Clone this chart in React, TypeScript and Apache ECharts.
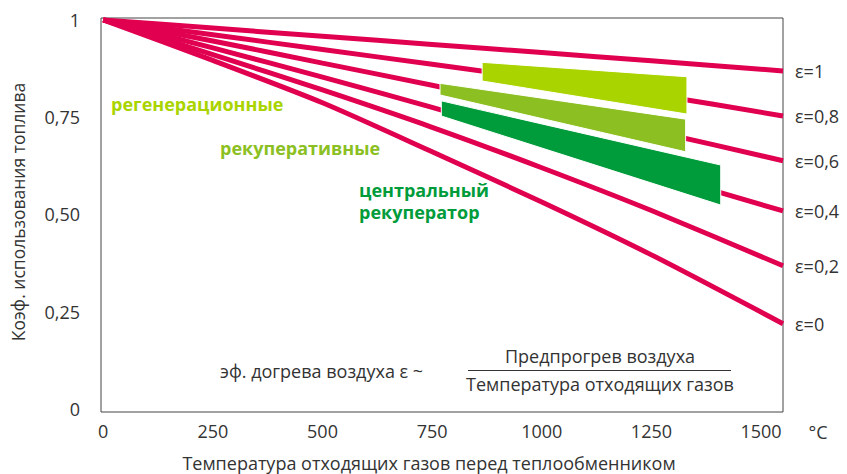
import React, { useEffect, useRef } from "react";
import * as echarts from "echarts";

// Temperatures (°C) at which the curves were read
const temps = [0, 250, 500, 750, 1000, 1250, 1550];
// Fuel utilisation coefficient for each preheat efficiency ε
const epsNames = ["ε=1", "ε=0,8", "ε=0,6", "ε=0,4", "ε=0,2", "ε=0"];
const eps1 = [1, 0.979, 0.958, 0.937, 0.916, 0.895, 0.869];
const eps08 = [1, 0.962, 0.924, 0.886, 0.848, 0.809, 0.753];
const eps06 = [1, 0.946, 0.889, 0.832, 0.772, 0.715, 0.638];
const eps04 = [1, 0.928, 0.853, 0.775, 0.693, 0.608, 0.509];
const eps02 = [1, 0.911, 0.82, 0.724, 0.62, 0.51, 0.368];
const eps0 = [1, 0.896, 0.787, 0.661, 0.532, 0.396, 0.219];

// Operating bands of heat exchanger types
const bandNames = ["регенерационные", "рекуперативные", "центральный рекуператор"];
const bandStartT = [864, 768, 771];
const bandEndT = [1331, 1328, 1408];
const bandStartTop = [0.891, 0.837, 0.792];
const bandStartBottom = [0.843, 0.807, 0.753];
const bandEndTop = [0.854, 0.745, 0.627];
const bandEndBottom = [0.758, 0.661, 0.524];

const xTickValues = [0, 250, 500, 750, 1000, 1250, 1500];
const yTickValues = [0, 0.25, 0.5, 0.75, 1];
const yTickLabels = ["0", "0,25", "0,50", "0,75", "1"];

const FONT = "'Open Sans', 'Noto Sans', sans-serif";
const TEXT = "#333333";
const PINK = "#e0004f";
const bandColors = ["#aad400", "#8bbf22", "#009c3b"];

export default function App() {
  const ref = useRef<HTMLDivElement>(null);

  useEffect(() => {
    if (!ref.current) return;
    const chart = echarts.init(ref.current, undefined, { renderer: "svg" });
    const curves = [eps1, eps08, eps06, eps04, eps02, eps0];

    const lineSeries = curves.map((vals, i) => ({
      type: "line",
      name: epsNames[i],
      data: temps.map((t, k) => [t, vals[k]]),
      showSymbol: false,
      smooth: 0.25,
      silent: true,
      z: 2,
      lineStyle: { color: PINK, width: 5, cap: "butt" },
      endLabel: {
        show: true,
        formatter: epsNames[i],
        distance: 12,
        color: TEXT,
        fontSize: 18,
        fontFamily: FONT,
      },
    }));

    const bandData = bandNames.map((_, i) => [
      bandStartT[i],
      bandEndT[i],
      bandStartTop[i],
      bandStartBottom[i],
      bandEndTop[i],
      bandEndBottom[i],
    ]);

    const bandSeries = {
      type: "custom",
      z: 5,
      silent: true,
      data: bandData,
      encode: { x: [0, 1], y: [2, 3, 4, 5] },
      renderItem: (params: any, api: any) => {
        const i = params.dataIndex;
        const a = api.coord([api.value(0), api.value(2)]);
        const b = api.coord([api.value(1), api.value(4)]);
        const c = api.coord([api.value(1), api.value(5)]);
        const d = api.coord([api.value(0), api.value(3)]);
        return {
          type: "polygon",
          shape: { points: [a, b, c, d] },
          style: { fill: bandColors[i], stroke: "#ffffff", lineWidth: 1 },
        };
      },
    };

    const txt = (
      text: string,
      x: number,
      y: number,
      opts: { size?: number; color?: string; bold?: boolean; align?: string; rotation?: number } = {}
    ) => ({
      type: "text",
      x,
      y,
      z: 10,
      rotation: opts.rotation || 0,
      style: {
        text,
        fill: opts.color || TEXT,
        fontSize: opts.size || 18,
        fontWeight: opts.bold ? "bold" : "normal",
        fontFamily: FONT,
        textAlign: opts.align || "left",
        textVerticalAlign: "middle",
      },
    });

    const option: any = {
      animation: false,
      backgroundColor: "#ffffff",
      grid: {
        left: 101,
        top: 18,
        width: 682,
        height: 394,
        show: true,
        borderColor: "#444444",
        borderWidth: 1,
        backgroundColor: "transparent",
      },
      xAxis: {
        type: "value",
        min: -5,
        max: 1550,
        axisLine: { show: false },
        axisTick: { show: false },
        splitLine: { show: false },
        axisLabel: {
          customValues: xTickValues,
          formatter: (v: number) => String(v),
          color: TEXT,
          fontSize: 18,
          fontFamily: FONT,
          margin: 10,
        },
      },
      yAxis: {
        type: "value",
        min: -0.008,
        max: 1.005,
        axisLine: { show: false },
        axisTick: { show: false },
        splitLine: { show: false },
        axisLabel: {
          customValues: yTickValues,
          formatter: (v: number) => {
            const idx = yTickValues.findIndex((t) => Math.abs(t - v) < 1e-6);
            return idx >= 0 ? yTickLabels[idx] : "";
          },
          color: TEXT,
          fontSize: 18,
          fontFamily: FONT,
          margin: 21,
        },
      },
      graphic: [
        txt("Коэф. использования топлива", 18, 212, { align: "center", rotation: Math.PI / 2, size: 17.5 }),
        txt("Температура отходящих газов перед теплообменником", 429, 463, { align: "center" }),
        txt("°C", 818, 432, { align: "center" }),
        txt(bandNames[0], 111, 104, { bold: true, color: bandColors[0] }),
        txt(bandNames[1], 220, 148, { bold: true, color: bandColors[1] }),
        txt("центральный", 359, 190, { bold: true, color: bandColors[2] }),
        txt("рекуператор", 359, 212, { bold: true, color: bandColors[2] }),
        txt("эф. догрева воздуха ε ~", 220, 371, {}),
        txt("Предпрогрев воздуха", 600, 356, { align: "center" }),
        {
          type: "line",
          shape: { x1: 468, y1: 370.5, x2: 731, y2: 370.5 },
          style: { stroke: TEXT, lineWidth: 1 },
        },
        txt("Температура отходящих газов", 600, 384, { align: "center" }),
      ],
      series: [...lineSeries, bandSeries],
    };

    chart.setOption(option);
    return () => chart.dispose();
  }, []);

  return (
    <div
      ref={ref}
      style={{ position: "fixed", left: 0, top: 0, width: 847, height: 474, background: "#fff" }}
    />
  );
}
